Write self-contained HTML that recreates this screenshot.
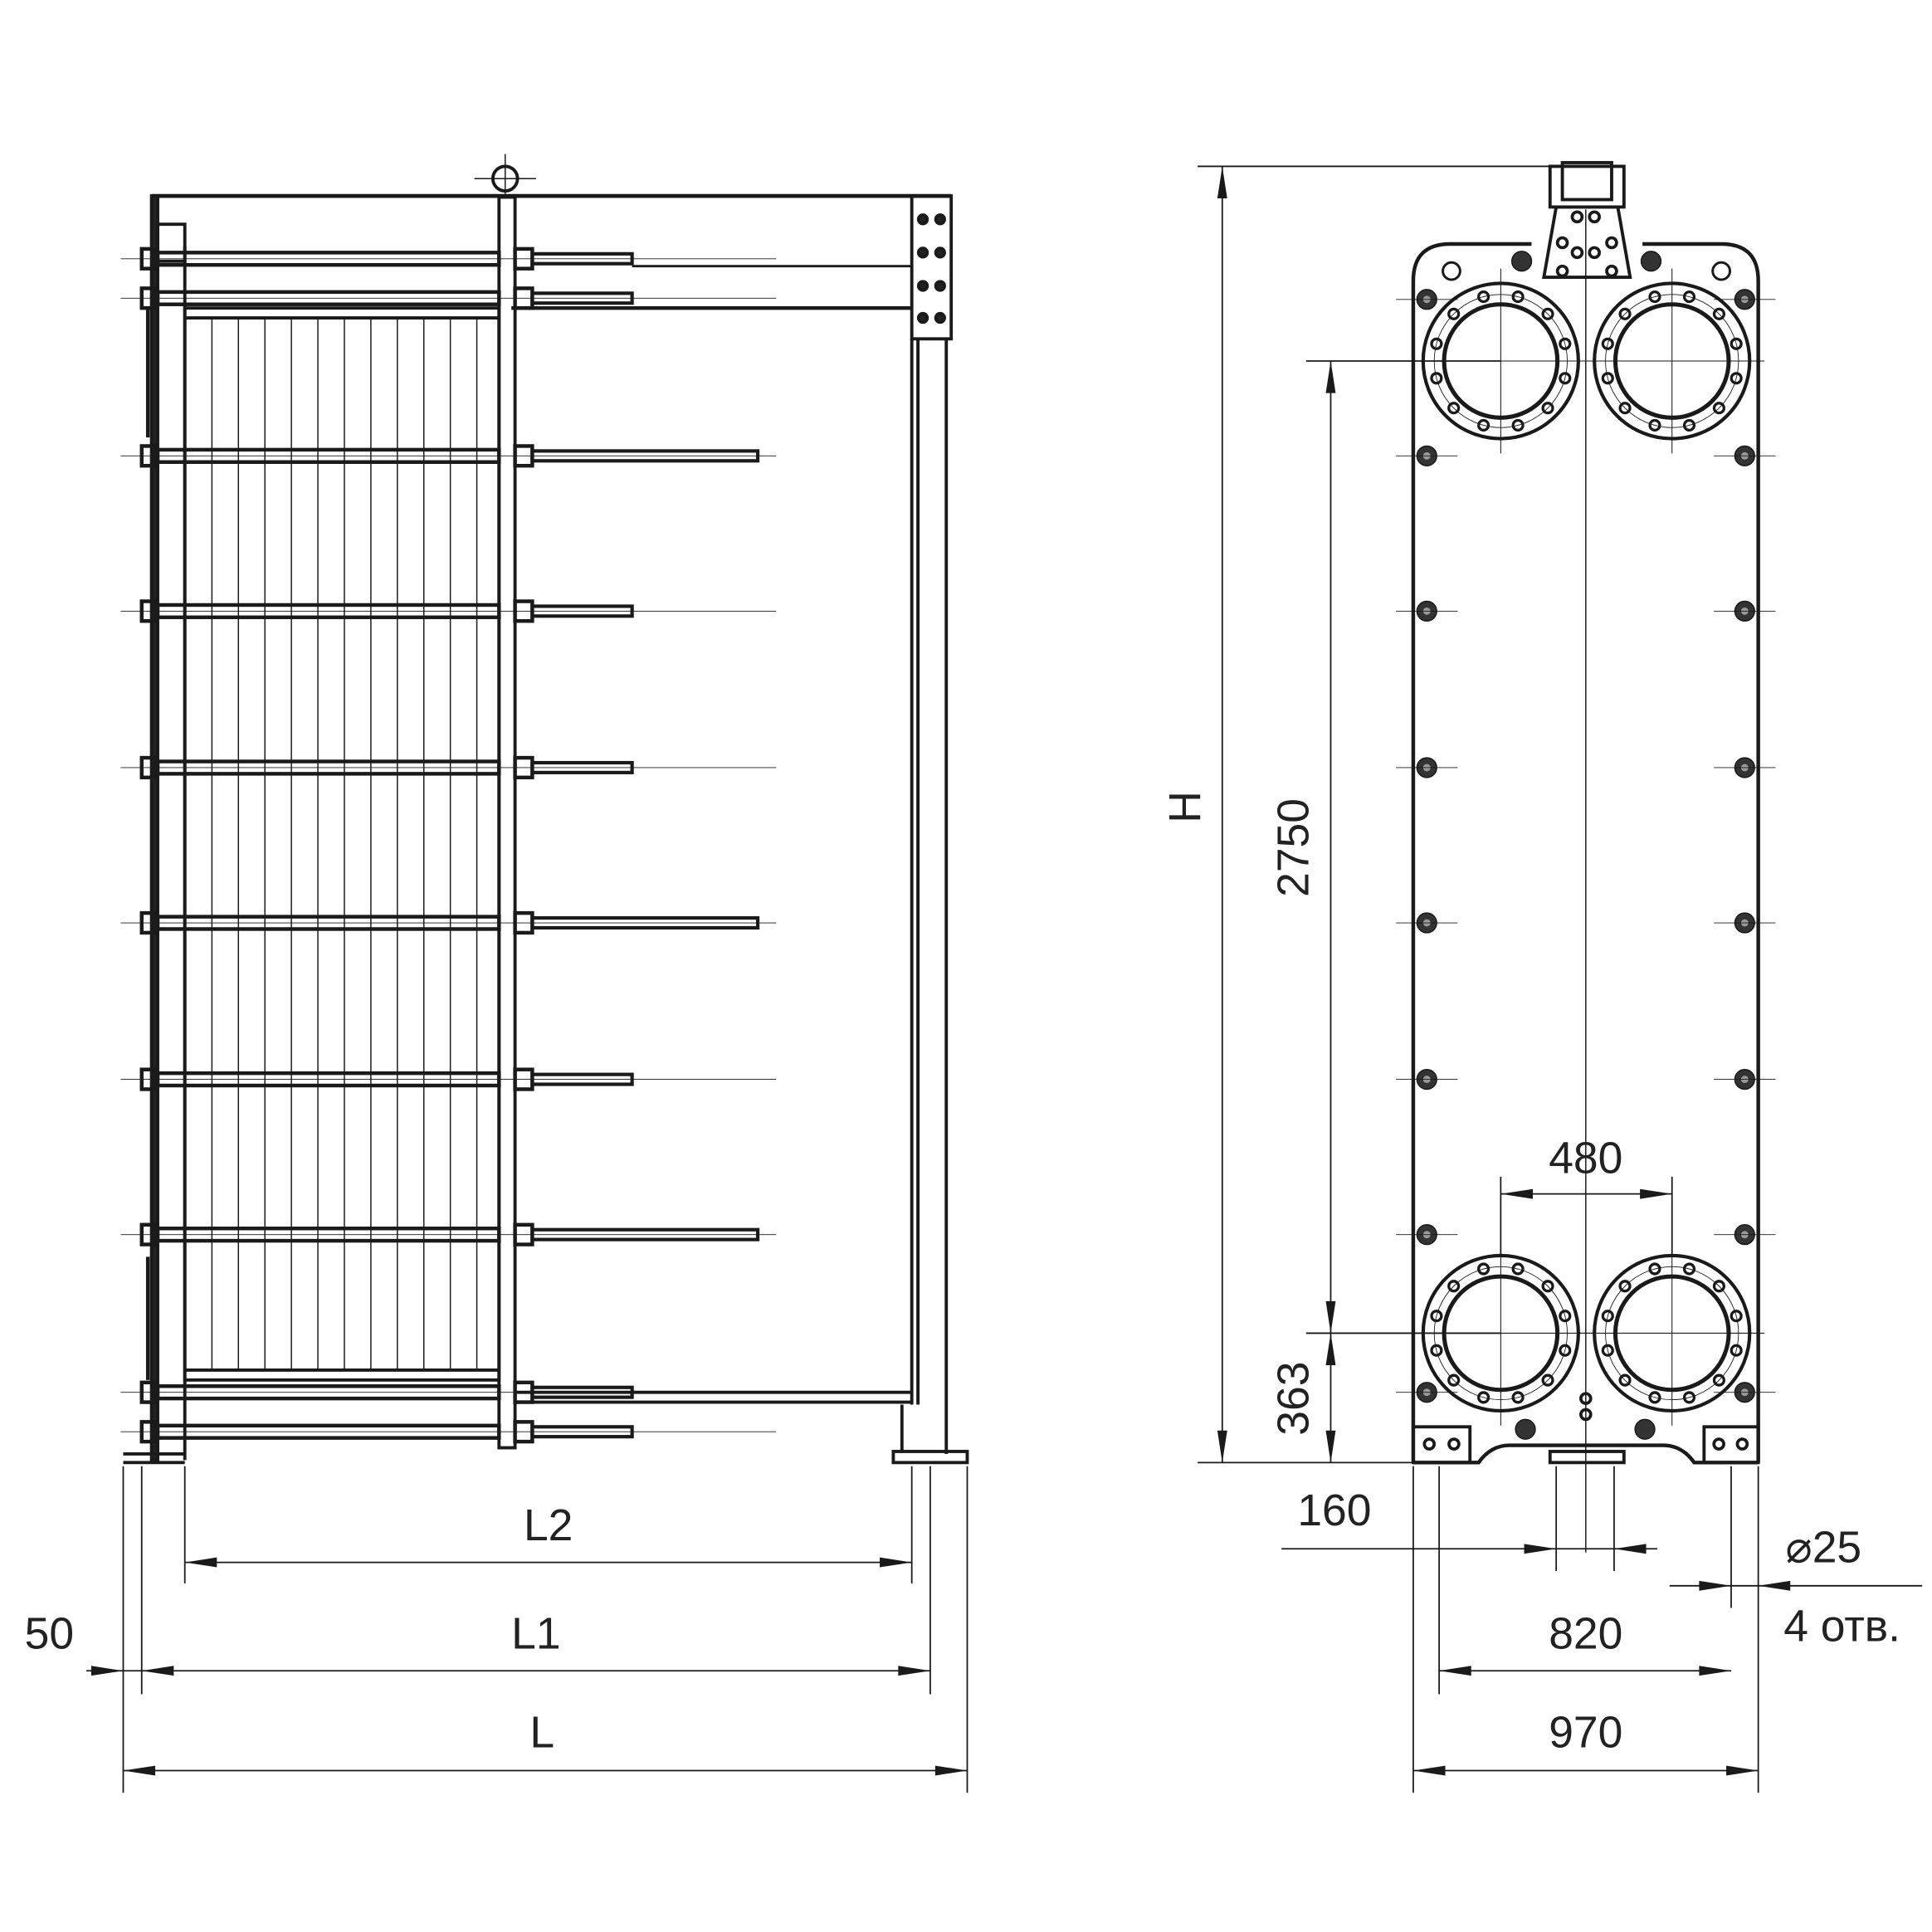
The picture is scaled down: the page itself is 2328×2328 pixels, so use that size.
<!DOCTYPE html>
<html><head><meta charset="utf-8"><style>
html,body{margin:0;padding:0;background:#fff}
svg{display:block}
text{font-family:"Liberation Sans",sans-serif;font-size:36px;fill:#222}
</style></head><body>
<svg id="s" width="2328" height="2328" viewBox="0 0 1568 1568" xmlns="http://www.w3.org/2000/svg">
<rect width="1568" height="1568" fill="#fff"/>
<g id="g" stroke="#1a1a1a" fill="none" stroke-width="2.6">
<line x1="123" y1="159" x2="772" y2="159" stroke-width="3.2"/>
<rect x="740" y="159" width="32" height="116"/>
<line x1="745" y1="275" x2="745" y2="1140"/><line x1="768" y1="275" x2="768" y2="1180"/>
<line x1="740" y1="275" x2="740" y2="1140"/>
<line x1="415" y1="250" x2="740" y2="250" stroke-width="3"/>
<line x1="513" y1="216" x2="740" y2="216" stroke-width="2"/>
<rect x="123" y="159" width="5" height="1026" fill="#222"/>
<line x1="150" y1="200" x2="150" y2="1185"/>
<rect x="128" y="182" width="22" height="30"/>
<rect x="150" y="250" width="255" height="870"/>
<line x1="150" y1="258" x2="405" y2="258"/>
<line x1="150" y1="1112" x2="405" y2="1112"/>
<rect x="405" y="160" width="13" height="1015"/>
<circle cx="410" cy="145" r="10"/>
<line x1="410" y1="125" x2="410" y2="160" stroke-width="1"/>
<line x1="385" y1="145" x2="435" y2="145" stroke-width="1"/>
<line x1="120" y1="250" x2="120" y2="355" stroke-width="3"/>
<line x1="120" y1="1020" x2="120" y2="1120" stroke-width="3"/>
<line x1="100" y1="1180" x2="150" y2="1180"/><line x1="100" y1="1187" x2="150" y2="1187"/>
<line x1="418" y1="1130" x2="740" y2="1130"/><line x1="418" y1="1138" x2="740" y2="1138"/>
<rect x="725" y="1178" width="60" height="9"/>
<line x1="732" y1="1140" x2="732" y2="1178"/>
<path d="M1147 1187 V228 Q1147 198 1177 198 H1243 M1333 198 H1397 Q1427 198 1427 228 V1187" stroke-width="3"/>
<path d="M1147 1187 H1200 Q1210 1173 1225 1173 H1350 Q1365 1173 1375 1187 H1427" stroke-width="3"/>
<path d="M1253 225 L1263 168 H1313 L1323 225 Z"/>
<rect x="1258" y="135" width="60" height="33"/>
<rect x="1268" y="132" width="40" height="30"/>
<line x1="1287" y1="170" x2="1287" y2="1260" stroke-width="1"/>
<rect x="1147" y="1158" width="46" height="29"/><rect x="1383" y="1158" width="44" height="29"/>
<rect x="1258" y="1178" width="60" height="9"/>
<g stroke-width="1.2">
<line x1="100" y1="1190" x2="100" y2="1455"/><line x1="115" y1="1190" x2="115" y2="1375"/>
<line x1="150" y1="1190" x2="150" y2="1285"/><line x1="740" y1="1190" x2="740" y2="1285"/>
<line x1="755" y1="1190" x2="755" y2="1375"/><line x1="785" y1="1190" x2="785" y2="1455"/>
<line x1="150" y1="1268" x2="740" y2="1268"/>
<line x1="70" y1="1356" x2="755" y2="1356"/>
<line x1="100" y1="1437" x2="785" y2="1437"/>
<line x1="972" y1="135" x2="1290" y2="135"/><line x1="1060" y1="293" x2="1218" y2="293"/>
<line x1="1060" y1="1082" x2="1218" y2="1082"/><line x1="972" y1="1187" x2="1147" y2="1187"/>
<line x1="992" y1="135" x2="992" y2="1187"/>
<line x1="1080" y1="293" x2="1080" y2="1187"/>
<line x1="1218" y1="955" x2="1218" y2="1020"/><line x1="1357" y1="955" x2="1357" y2="1020"/>
<line x1="1218" y1="969" x2="1357" y2="969"/>
<line x1="1147" y1="1190" x2="1147" y2="1455"/><line x1="1427" y1="1190" x2="1427" y2="1455"/>
<line x1="1168" y1="1190" x2="1168" y2="1375"/><line x1="1405" y1="1190" x2="1405" y2="1305"/>
<line x1="1263" y1="1190" x2="1263" y2="1275"/><line x1="1310" y1="1190" x2="1310" y2="1275"/>
<line x1="1040" y1="1257" x2="1345" y2="1257"/>
<line x1="1168" y1="1356" x2="1405" y2="1356"/>
<line x1="1147" y1="1437" x2="1427" y2="1437"/>
<line x1="1355" y1="1287" x2="1560" y2="1287"/>
</g>
</g>
<g fill="#1a1a1a" id="ar"></g>
<text x="445" y="1250" text-anchor="middle">L2</text>
<text x="435" y="1338" text-anchor="middle">L1</text>
<text x="440" y="1418" text-anchor="middle">L</text>
<text x="40" y="1338" text-anchor="middle">50</text>
<text x="1287" y="952" text-anchor="middle">480</text>
<text x="1083" y="1238" text-anchor="middle">160</text>
<text x="1287" y="1338" text-anchor="middle">820</text>
<text x="1287" y="1418" text-anchor="middle">970</text>
<text x="1480" y="1268" text-anchor="middle">⌀25</text>
<text x="1495" y="1332" text-anchor="middle">4 отв.</text>
<text transform="translate(974,655) rotate(-90)" text-anchor="middle">H</text>
<text transform="translate(1062,688) rotate(-90)" text-anchor="middle">2750</text>
<text transform="translate(1062,1135) rotate(-90)" text-anchor="middle">363</text>
</svg>
<script>
var NS="http://www.w3.org/2000/svg",g=document.getElementById('g'),ar=document.getElementById('ar');
function el(n,a,p){var e=document.createElementNS(NS,n);for(var k in a)e.setAttribute(k,a[k]);(p||g).appendChild(e);return e;}
for(var x=172;x<405;x+=21.5)el('line',{x1:x,y1:258,x2:x,y2:1112,'stroke-width':1});
var bars=[[210,513],[242,513],[370,615],[496,513],[623,513],[749,615],[876,513],[1002,615],[1130,513],[1162,513]];
bars.forEach(function(b){var y=b[0];
el('rect',{x:128,y:y-5,width:277,height:10,'stroke-width':3});
el('rect',{x:432,y:y-4,width:b[1]-432,height:8,'stroke-width':2.8});
el('rect',{x:115,y:y-8,width:11,height:16,'stroke-width':3});
el('rect',{x:418,y:y-8,width:14,height:16,'stroke-width':3});
el('line',{x1:98,y1:y,x2:630,y2:y,'stroke-width':0.6});});
[178,205,232,258].forEach(function(y){el('circle',{cx:749,cy:y,r:3.5,fill:'#222'});el('circle',{cx:763,cy:y,r:3.5,fill:'#222'});});
[[1218,293],[1357,293],[1218,1082],[1357,1082]].forEach(function(c){
el('circle',{cx:c[0],cy:c[1],r:63,'stroke-width':2.8});el('circle',{cx:c[0],cy:c[1],r:46,'stroke-width':3.4});
el('circle',{cx:c[0],cy:c[1],r:54,'stroke-width':0.6});
for(var i=0;i<12;i++){var a=(i+0.5)*Math.PI/6;el('circle',{cx:c[0]+54*Math.cos(a),cy:c[1]+54*Math.sin(a),r:4,'stroke-width':2.2});}
el('line',{x1:c[0]-75,y1:c[1],x2:c[0]+75,y2:c[1],'stroke-width':0.7});
el('line',{x1:c[0],y1:c[1]-75,x2:c[0],y2:c[1]+75,'stroke-width':0.7});});
[243,370,496,623,749,876,1002,1130].forEach(function(y){[1158,1416].forEach(function(x){
el('circle',{cx:x,cy:y,r:8,fill:'#333','stroke-width':1});el('circle',{cx:x,cy:y,r:3,fill:'#999','stroke-width':0});
el('line',{x1:x-25,y1:y,x2:x+25,y2:y,'stroke-width':0.6});});});
[[1235,212],[1340,212],[1238,1160],[1335,1160]].forEach(function(p){el('circle',{cx:p[0],cy:p[1],r:8,fill:'#333','stroke-width':1});});
[[1178,220],[1397,220]].forEach(function(p){el('circle',{cx:p[0],cy:p[1],r:7,'stroke-width':2});});
[[1280,176],[1294,176],[1268,197],[1308,197],[1280,205],[1294,205],[1268,220],[1308,220],[1287,1135],[1287,1148],[1160,1172],[1180,1172],[1395,1172],[1414,1172]].forEach(function(p){el('circle',{cx:p[0],cy:p[1],r:4,'stroke-width':2.5});});
function arr(x,y,dx,dy){var L=26,W=4,px=-dy,py=dx;el('path',{d:'M'+x+' '+y+' L'+(x-dx*L+px*W)+' '+(y-dy*L+py*W)+' L'+(x-dx*L-px*W)+' '+(y-dy*L-py*W)+'Z'},ar);}
arr(150,1268,-1,0);arr(740,1268,1,0);
arr(115,1356,-1,0);arr(755,1356,1,0);arr(100,1356,1,0);
arr(100,1437,-1,0);arr(785,1437,1,0);
arr(992,135,0,-1);arr(992,1187,0,1);
arr(1080,293,0,-1);arr(1080,1082,0,1);arr(1080,1082,0,-1);arr(1080,1187,0,1);
arr(1218,969,-1,0);arr(1357,969,1,0);
arr(1263,1257,1,0);arr(1310,1257,-1,0);
arr(1168,1356,-1,0);arr(1405,1356,1,0);
arr(1147,1437,-1,0);arr(1427,1437,1,0);
arr(1405,1287,1,0);arr(1427,1287,-1,0);
</script>
</body></html>
